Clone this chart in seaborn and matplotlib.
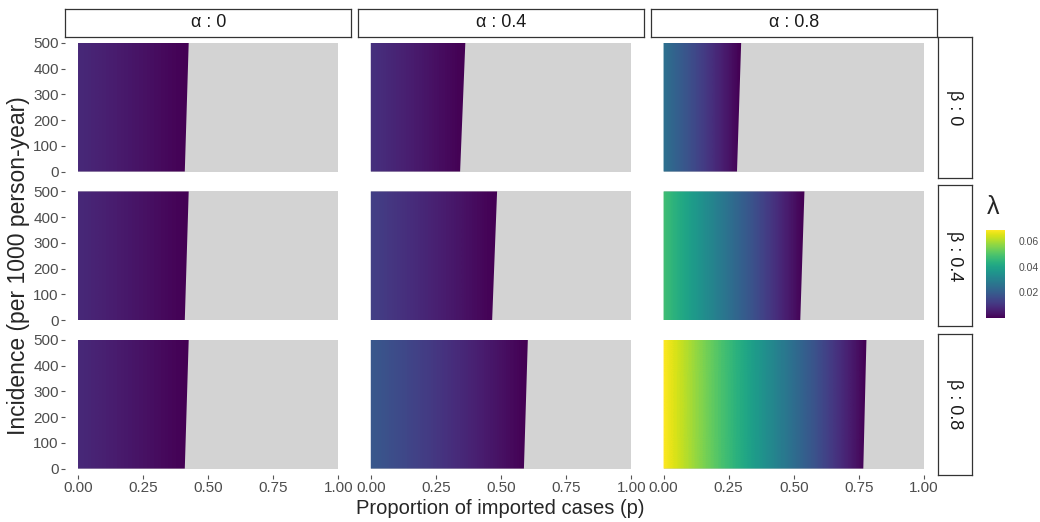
import numpy as np
import pandas as pd
import matplotlib
matplotlib.use('Agg')
import matplotlib.pyplot as plt
from matplotlib.patches import Polygon
import seaborn as sns

# valeurs (lignes = beta, colonnes = alpha)
alphas = [0, 0.4, 0.8]
betas = [0, 0.4, 0.8]
# lambda a p = 0
lam_p0 = [[0.008, 0.0097, 0.0255],
          [0.008, 0.013, 0.048],
          [0.008, 0.019, 0.069]]
# p limite (lambda -> 0) pour incidence = 0 et incidence = 500
p_lim_inc0 = [[0.41, 0.343, 0.282],
              [0.41, 0.466, 0.525],
              [0.41, 0.588, 0.767]]
p_lim_inc500 = [[0.425, 0.363, 0.298],
                [0.425, 0.485, 0.541],
                [0.425, 0.603, 0.779]]
incidence_range = [0, 500]
lam_min, lam_max = 0.0, 0.069
cb_ticks = [0.02, 0.04, 0.06]

rows = []
for i, b in enumerate(betas):
    for j, a in enumerate(alphas):
        rows.append({'alpha': a, 'beta': b, 'lam0': lam_p0[i][j],
                     'p0': p_lim_inc0[i][j], 'p500': p_lim_inc500[i][j]})
df = pd.DataFrame(rows)

sns.set_style('white')
plt.rcParams['font.family'] = ['Liberation Sans', 'DejaVu Sans']

g = sns.FacetGrid(df, row='beta', col='alpha', row_order=betas, col_order=alphas,
                  height=1.4, aspect=2.0, sharex=True, sharey=True, despine=False)
g.figure.set_size_inches(10.4, 5.22)


def draw_panel(data, **kws):
    ax = plt.gca()
    r = data.iloc[0]
    y0, y1 = incidence_range
    # zone NA en gris
    ax.fill_between([0, 1], y0, y1, color='#D3D3D3', lw=0, zorder=1)
    # degrade lambda : de lam0 (p=0) a 0 (p limite), coupe par la limite oblique
    b = (r['p0'] + r['p500']) / 2
    im = ax.imshow([[r['lam0'], lam_min]], extent=(-b / 2, 1.5 * b, y0, y1),
                   aspect='auto', cmap='viridis', vmin=lam_min, vmax=lam_max,
                   interpolation='bilinear', interpolation_stage='data',
                   origin='lower', zorder=2)
    clip = Polygon([(0, y0), (r['p0'], y0), (r['p500'], y1), (0, y1)],
                   closed=True, transform=ax.transData, facecolor='none', edgecolor='none')
    ax.add_patch(clip)
    im.set_clip_path(clip)


g.map_dataframe(draw_panel)
g.set_titles('')

g.figure.subplots_adjust(left=65 / 1040, right=937 / 1040, top=1 - 36.5 / 522,
                         bottom=1 - 475 / 522, wspace=0.022, hspace=0.05)

for i, row_axes in enumerate(g.axes):
    for j, ax in enumerate(row_axes):
        ax.set_xlim(-0.05, 1.05)
        ax.set_ylim(-25, 525)
        for s in ax.spines.values():
            s.set_visible(False)
        ax.set_xticks([0, 0.25, 0.5, 0.75, 1.0])
        ax.set_yticks([0, 100, 200, 300, 400, 500])
        ax.tick_params(axis='both', direction='out', length=3, width=0.8,
                       color='#555555', labelcolor='#4D4D4D', labelsize=11, pad=1.5)
        ax.tick_params(axis='x', bottom=(i == len(betas) - 1))
        ax.tick_params(axis='y', left=(j == 0))
        ax.set_xlabel('')
        ax.set_ylabel('')
for ax in g.axes[-1]:
    ax.set_xticklabels(['0.00', '0.25', '0.50', '0.75', '1.00'])
for ax in g.axes[:, 0]:
    ax.set_yticklabels(['0', '100', '200', '300', '400', '500'])

fig = g.figure
# bandeaux du haut
for j, a in enumerate(alphas):
    ax = g.axes[0, j]
    pos = ax.get_position()
    sax = fig.add_axes([pos.x0, pos.y1, pos.width, 28 / 522])
    sax.set_xticks([]); sax.set_yticks([])
    for s in sax.spines.values():
        s.set_color('#333333'); s.set_linewidth(0.9)
    sax.text(0.5, 0.5, 'α : %g' % a, ha='center', va='center', fontsize=13,
             color='#1A1A1A', transform=sax.transAxes)
# bandeaux de droite
for i, b in enumerate(betas):
    ax = g.axes[i, -1]
    pos = ax.get_position()
    sax = fig.add_axes([pos.x1 + 1 / 1040, pos.y0, 34 / 1040, pos.height])
    sax.set_xticks([]); sax.set_yticks([])
    for s in sax.spines.values():
        s.set_color('#333333'); s.set_linewidth(0.9)
    sax.text(0.5, 0.5, 'β : %g' % b, ha='center', va='center', fontsize=13,
             color='#1A1A1A', rotation=-90, transform=sax.transAxes)

fig.text(500 / 1040, 1 - 508 / 522, 'Proportion of imported cases (p)',
         ha='center', va='center', fontsize=14.5)
fig.text(19 / 1040, 1 - 266 / 522, 'Incidence (per 1000 person-year)',
         ha='center', va='center', fontsize=16.5, rotation=90)

# legende
cax = fig.add_axes([986 / 1040, 1 - 318 / 522, 19 / 1040, 88 / 522])
sm = plt.cm.ScalarMappable(cmap='viridis', norm=plt.Normalize(lam_min, lam_max))
cb = fig.colorbar(sm, cax=cax, ticks=cb_ticks)
cb.outline.set_visible(False)
cb.ax.tick_params(length=0, labelsize=7.5, labelcolor='#4D4D4D', pad=10)
cb.ax.set_yticklabels(['0.02', '0.04', '0.06'])
fig.text(993 / 1040, 1 - 207 / 522, 'λ', ha='center', va='center', fontsize=18)

plt.savefig('out.png', dpi=100)
